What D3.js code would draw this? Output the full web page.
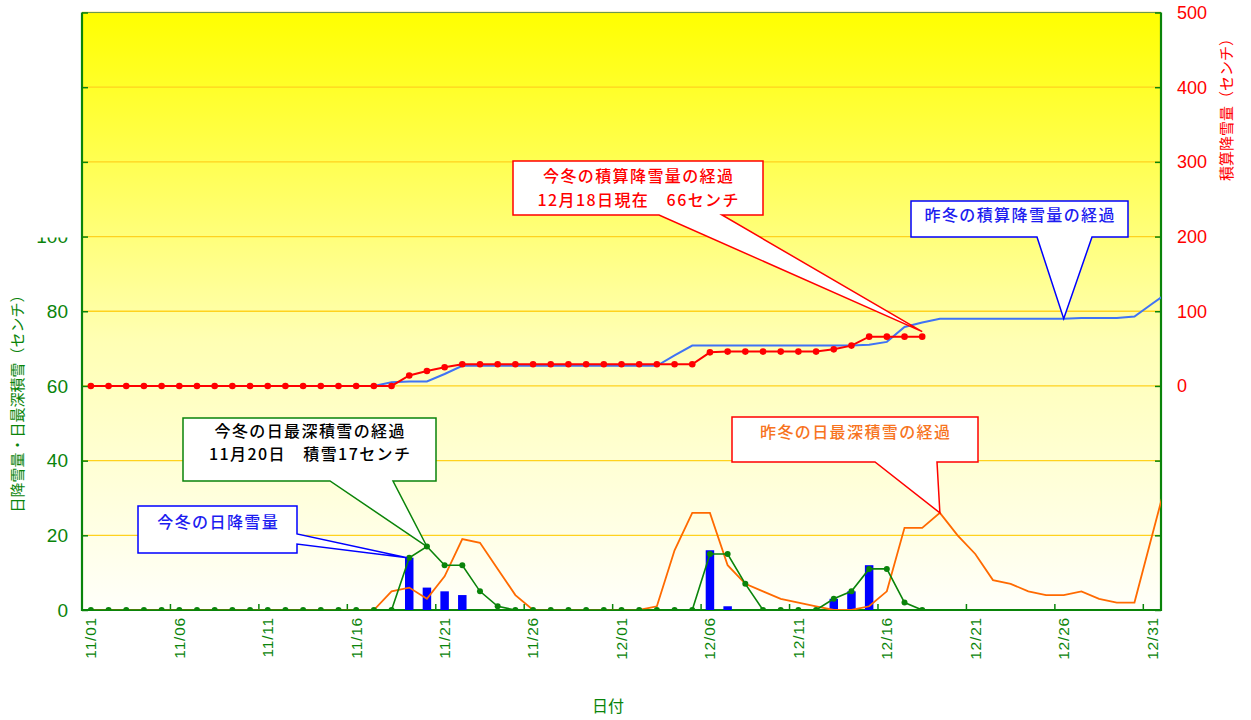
<!DOCTYPE html>
<html>
<head>
<meta charset="utf-8">
<script src="https://cdn.jsdelivr.net/npm/d3@7"></script>
<style>
  body { margin: 0; background: #fff; }
  svg { display: block; }
</style>
</head>
<body>
<svg id="chart" width="1251" height="720"></svg>
<script>
// ---- data -------------------------------------------------------------
const days = [
  "11/01","11/02","11/03","11/04","11/05","11/06","11/07","11/08","11/09","11/10",
  "11/11","11/12","11/13","11/14","11/15","11/16","11/17","11/18","11/19","11/20",
  "11/21","11/22","11/23","11/24","11/25","11/26","11/27","11/28","11/29","11/30",
  "12/01","12/02","12/03","12/04","12/05","12/06","12/07","12/08","12/09","12/10",
  "12/11","12/12","12/13","12/14","12/15","12/16","12/17","12/18","12/19","12/20",
  "12/21","12/22","12/23","12/24","12/25","12/26","12/27","12/28","12/29","12/30",
  "12/31"
];
const tickLabels = ["11/01","11/06","11/11","11/16","11/21","11/26","12/01",
                    "12/06","12/11","12/16","12/21","12/26","12/31"];
const leftTicks  = [0, 20, 40, 60, 80, 100];
const rightTicks = [0, 100, 200, 300, 400, 500];

// This winter (through 12/18): daily snowfall, deepest snow, running total
const snowfallThis = [0,0,0,0,0,0,0,0,0,0, 0,0,0,0,0,0,0,0,14,6,
                      5,4,0,0,0,0,0,0,0,0, 0,0,0,0,0,16,1,0,0,0,
                      0,0,3,5,12,0,0,0];
const depthThis    = [0,0,0,0,0,0,0,0,0,0, 0,0,0,0,0,0,0,0,14,17,
                      12,12,5,1,0,0,0,0,0,0, 0,0,0,0,0,15,15,7,0,0,
                      0,0,3,5,11,11,2,0];
const totalThis    = [0,0,0,0,0,0,0,0,0,0, 0,0,0,0,0,0,0,0,14,20,
                      25,29,29,29,29,29,29,29,29,29, 29,29,29,29,29,45,46,46,46,46,
                      46,46,49,54,66,66,66,66];

// Last winter: deepest snow and running total (record continues into 1/01)
const depthLast = [0,0,0,0,0,0,0,0,0,0, 0,0,0,0,0,0,0,5,6,3,
                   9,19,18,11,4,0,0,0,0,0, 0,0,1,16,26,26,12,7,5,3,
                   2,1,0,0,1,5,22,22,26,20, 15,8,7,5,4,4,5,3,2,2,
                   20,38];
const totalLast = [0,0,0,0,0,0,0,0,0,0, 0,0,0,0,0,0,0,5,6,6,
                   16,27,27,27,27,27,27,27,27,27, 27,27,27,41,54,54,54,54,54,54,
                   54,54,54,54,55,59,79,85,90,90, 90,90,90,90,90,90,91,91,91,93,
                   110,127];

// ---- layout -----------------------------------------------------------
const plot = { left: 82, right: 1161, top: 12.5, bottom: 610 };
const svg = d3.select("#chart");

const x  = d3.scaleLinear().domain([-0.5, days.length - 0.5]).range([plot.left, plot.right]);
const yL = d3.scaleLinear().domain([0, 160]).range([plot.bottom, plot.top]);
const yR = d3.scaleLinear().domain([-300, 500]).range([plot.bottom, plot.top]);

const GREEN = "#0a840a", RED = "#ff0000", BLUE = "#0000ff",
      SKY = "#3f73f5", ORANGE = "#ff6a00";
const JP = "'Noto Sans CJK JP', 'Noto Sans', sans-serif";
const NUM = "'Liberation Sans', Arial, sans-serif";

const defs = svg.append("defs");
const grad = defs.append("linearGradient").attr("id", "bg")
  .attr("x1", 0).attr("y1", 0).attr("x2", 0).attr("y2", 1);
grad.append("stop").attr("offset", "0%").attr("stop-color", "#ffff00");
grad.append("stop").attr("offset", "55%").attr("stop-color", "#ffffb4");
grad.append("stop").attr("offset", "100%").attr("stop-color", "#fffffa");

defs.append("clipPath").attr("id", "plotClip").append("rect")
  .attr("x", plot.left).attr("y", plot.top)
  .attr("width", plot.right - plot.left).attr("height", plot.bottom - plot.top);
defs.append("clipPath").attr("id", "leftLabelClip").append("rect")
  .attr("x", 0).attr("y", yL(100) + 1).attr("width", plot.left).attr("height", 400);

// plot background
svg.append("rect")
  .attr("x", plot.left).attr("y", plot.top)
  .attr("width", plot.right - plot.left).attr("height", plot.bottom - plot.top)
  .attr("fill", "url(#bg)");

// horizontal grid lines (every 20 on the left scale)
const gridVals = d3.range(20, 161, 20);
svg.append("g").selectAll("line").data(gridVals).join("line")
  .attr("x1", plot.left).attr("x2", plot.right)
  .attr("y1", d => yL(d)).attr("y2", d => yL(d))
  .attr("stroke", "#ffd21e").attr("stroke-width", 1.3);

// top frame
svg.append("line")
  .attr("x1", plot.left).attr("x2", plot.right)
  .attr("y1", plot.top).attr("y2", plot.top)
  .attr("stroke", "#6a9a50").attr("stroke-width", 1);

// ---- axes -------------------------------------------------------------
const leftAxis = d3.axisRight(yL).tickValues(d3.range(0, 161, 20)).tickSize(6).tickFormat("");
svg.append("g").attr("transform", `translate(${plot.left},0)`).call(leftAxis)
  .call(g => g.select(".domain").remove())
  .call(g => g.selectAll("line").attr("stroke", GREEN).attr("stroke-width", 1.5));
const rightAxis = d3.axisLeft(yR).tickValues(d3.range(-300, 501, 100)).tickSize(6).tickFormat("");
svg.append("g").attr("transform", `translate(${plot.right},0)`).call(rightAxis)
  .call(g => g.select(".domain").remove())
  .call(g => g.selectAll("line").attr("stroke", GREEN).attr("stroke-width", 1.5));

// bottom ticks between category groups of five days
const bottomTickPos = d3.range(5, days.length, 5).map(i => i - 0.5);
svg.append("g").selectAll("line").data(bottomTickPos).join("line")
  .attr("x1", d => x(d)).attr("x2", d => x(d))
  .attr("y1", plot.bottom).attr("y2", plot.bottom - 6)
  .attr("stroke", GREEN).attr("stroke-width", 1.5);

// axis lines
svg.append("line").attr("x1", plot.left).attr("x2", plot.left)
  .attr("y1", plot.top).attr("y2", plot.bottom + 1)
  .attr("stroke", GREEN).attr("stroke-width", 2.2);
svg.append("line").attr("x1", plot.right).attr("x2", plot.right)
  .attr("y1", plot.top).attr("y2", plot.bottom + 1)
  .attr("stroke", GREEN).attr("stroke-width", 2.2);
svg.append("line").attr("x1", plot.left).attr("x2", plot.right)
  .attr("y1", plot.bottom).attr("y2", plot.bottom)
  .attr("stroke", GREEN).attr("stroke-width", 2.2);

// left tick labels
svg.append("g").attr("clip-path", "url(#leftLabelClip)")
  .selectAll("text").data(leftTicks).join("text")
  .attr("x", 68).attr("y", d => yL(d)).attr("dy", "0.36em")
  .attr("text-anchor", "end")
  .attr("font-family", NUM).attr("font-size", 19).attr("fill", GREEN)
  .text(d => d);

// right tick labels
svg.append("g").selectAll("text").data(rightTicks).join("text")
  .attr("x", 1177).attr("y", d => yR(d)).attr("dy", "0.36em")
  .attr("font-family", NUM).attr("font-size", 18).attr("fill", RED)
  .text(d => d);

// date labels, rotated
svg.append("g").selectAll("text").data(tickLabels).join("text")
  .attr("transform", d => `translate(${x(days.indexOf(d))},617) rotate(-90)`)
  .attr("text-anchor", "end").attr("dy", "0.35em")
  .attr("font-family", NUM).attr("font-size", 15.5).attr("letter-spacing", 0.8)
  .attr("fill", GREEN)
  .text(d => d);

// axis titles
svg.append("text").attr("x", 608).attr("y", 706).attr("text-anchor", "middle")
  .attr("dy", "0.35em").attr("font-family", JP).attr("font-size", 16).attr("fill", GREEN)
  .text("日付");
svg.append("text").attr("transform", "translate(18,400) rotate(-90)")
  .attr("text-anchor", "middle").attr("dy", "0.35em")
  .attr("font-family", JP).attr("font-size", 15).attr("fill", GREEN)
  .text("日降雪量・日最深積雪（センチ）");
svg.append("text").attr("transform", "translate(1227,106) rotate(-90)")
  .attr("text-anchor", "middle").attr("dy", "0.35em")
  .attr("font-family", JP).attr("font-size", 15).attr("fill", RED)
  .text("積算降雪量（センチ）");

// ---- series -----------------------------------------------------------
const series = svg.append("g").attr("clip-path", "url(#plotClip)");

// this winter's daily snowfall (bars)
const barW = (x(1) - x(0)) * 0.48;
series.append("g").selectAll("rect")
  .data(snowfallThis.map((v, i) => ({ i, v })).filter(d => d.v > 0))
  .join("rect")
  .attr("x", d => x(d.i) - barW / 2).attr("width", barW)
  .attr("y", d => yL(d.v)).attr("height", d => yL(0) - yL(d.v))
  .attr("fill", BLUE);

const lineL = d3.line().x((d, i) => x(i)).y(d => yL(d));
const lineR = d3.line().x((d, i) => x(i)).y(d => yR(d));

// last winter's deepest snow
series.append("path").datum(depthLast).attr("d", lineL)
  .attr("fill", "none").attr("stroke", ORANGE).attr("stroke-width", 1.8);

// last winter's running total
series.append("path").datum(totalLast).attr("d", lineR)
  .attr("fill", "none").attr("stroke", SKY).attr("stroke-width", 2);

// this winter's deepest snow
series.append("path").datum(depthThis).attr("d", lineL)
  .attr("fill", "none").attr("stroke", GREEN).attr("stroke-width", 1.6);
series.append("g").selectAll("circle").data(depthThis).join("circle")
  .attr("cx", (d, i) => x(i)).attr("cy", d => yL(d)).attr("r", 3)
  .attr("fill", GREEN);

// this winter's running total
series.append("path").datum(totalThis).attr("d", lineR)
  .attr("fill", "none").attr("stroke", RED).attr("stroke-width", 2);
series.append("g").selectAll("circle").data(totalThis).join("circle")
  .attr("cx", (d, i) => x(i)).attr("cy", d => yR(d)).attr("r", 3.3)
  .attr("fill", RED);

// ---- callouts ---------------------------------------------------------
const lastIdx = totalThis.length - 1;
const peakIdx = depthThis.indexOf(d3.max(depthThis));
const md = s => { const [m, d] = s.split("/"); return `${+m}月${+d}日`; };
const lastRefIdx = days.indexOf("12/26");
const lastPeakIdx = days.indexOf("12/19");
const firstFallIdx = snowfallThis.findIndex(v => v > 0);

const callouts = [
  { box: [513, 161, 763, 215], side: "bottom", w: [659, 722],
    tip: [x(lastIdx), yR(totalThis[lastIdx]) - 5], stroke: RED, color: RED,
    lines: ["今冬の積算降雪量の経過", `${md(days[lastIdx])}現在　${totalThis[lastIdx]}センチ`],
    ys: [176.5, 200] },
  { box: [911, 201, 1128, 237], side: "bottom", w: [1037, 1092],
    tip: [x(lastRefIdx), yR(totalLast[lastRefIdx])], stroke: BLUE, color: "#1c1cf0",
    lines: ["昨冬の積算降雪量の経過"], ys: [215] },
  { box: [183, 418, 436, 481], side: "bottom", w: [330, 393],
    tip: [x(peakIdx), yL(depthThis[peakIdx])], stroke: GREEN, color: "#000",
    lines: ["今冬の日最深積雪の経過", `${md(days[peakIdx])}　積雪${depthThis[peakIdx]}センチ`],
    ys: [431, 454.5] },
  { box: [138, 506, 297, 553], side: "right", w: [534, 544],
    tip: [x(firstFallIdx) - 2, yL(snowfallThis[firstFallIdx])], stroke: BLUE, color: "#1c1cf0",
    lines: ["今冬の日降雪量"], ys: [522] },
  { box: [732, 417, 978, 462], side: "bottom", w: [875, 937],
    tip: [x(lastPeakIdx), yL(depthLast[lastPeakIdx])], stroke: RED, color: "#f7741e",
    lines: ["昨冬の日最深積雪の経過"], ys: [432] }
];

function calloutPath(c) {
  const [x0, y0, x1, y1] = c.box, [a, b] = c.w, [tx, ty] = c.tip;
  if (c.side === "right")
    return `M${x0},${y0}H${x1}V${a}L${tx},${ty}L${x1},${b}V${y1}H${x0}Z`;
  return `M${x0},${y0}H${x1}V${y1}H${b}L${tx},${ty}L${a},${y1}H${x0}Z`;
}

const cg = svg.append("g");
callouts.forEach(c => {
  cg.append("path").attr("d", calloutPath(c))
    .attr("fill", "#fff").attr("stroke", c.stroke).attr("stroke-width", 1.5)
    .attr("stroke-linejoin", "miter");
  const cx = (c.box[0] + c.box[2]) / 2;
  c.lines.forEach((t, k) => {
    cg.append("text").attr("x", cx + 0.7).attr("y", c.ys[k]).attr("dy", "0.35em")
      .attr("text-anchor", "middle")
      .attr("font-family", JP).attr("font-size", 16).attr("font-weight", 500)
      .attr("letter-spacing", 1.4)
      .attr("fill", c.color).text(t);
  });
});
</script>
</body>
</html>
